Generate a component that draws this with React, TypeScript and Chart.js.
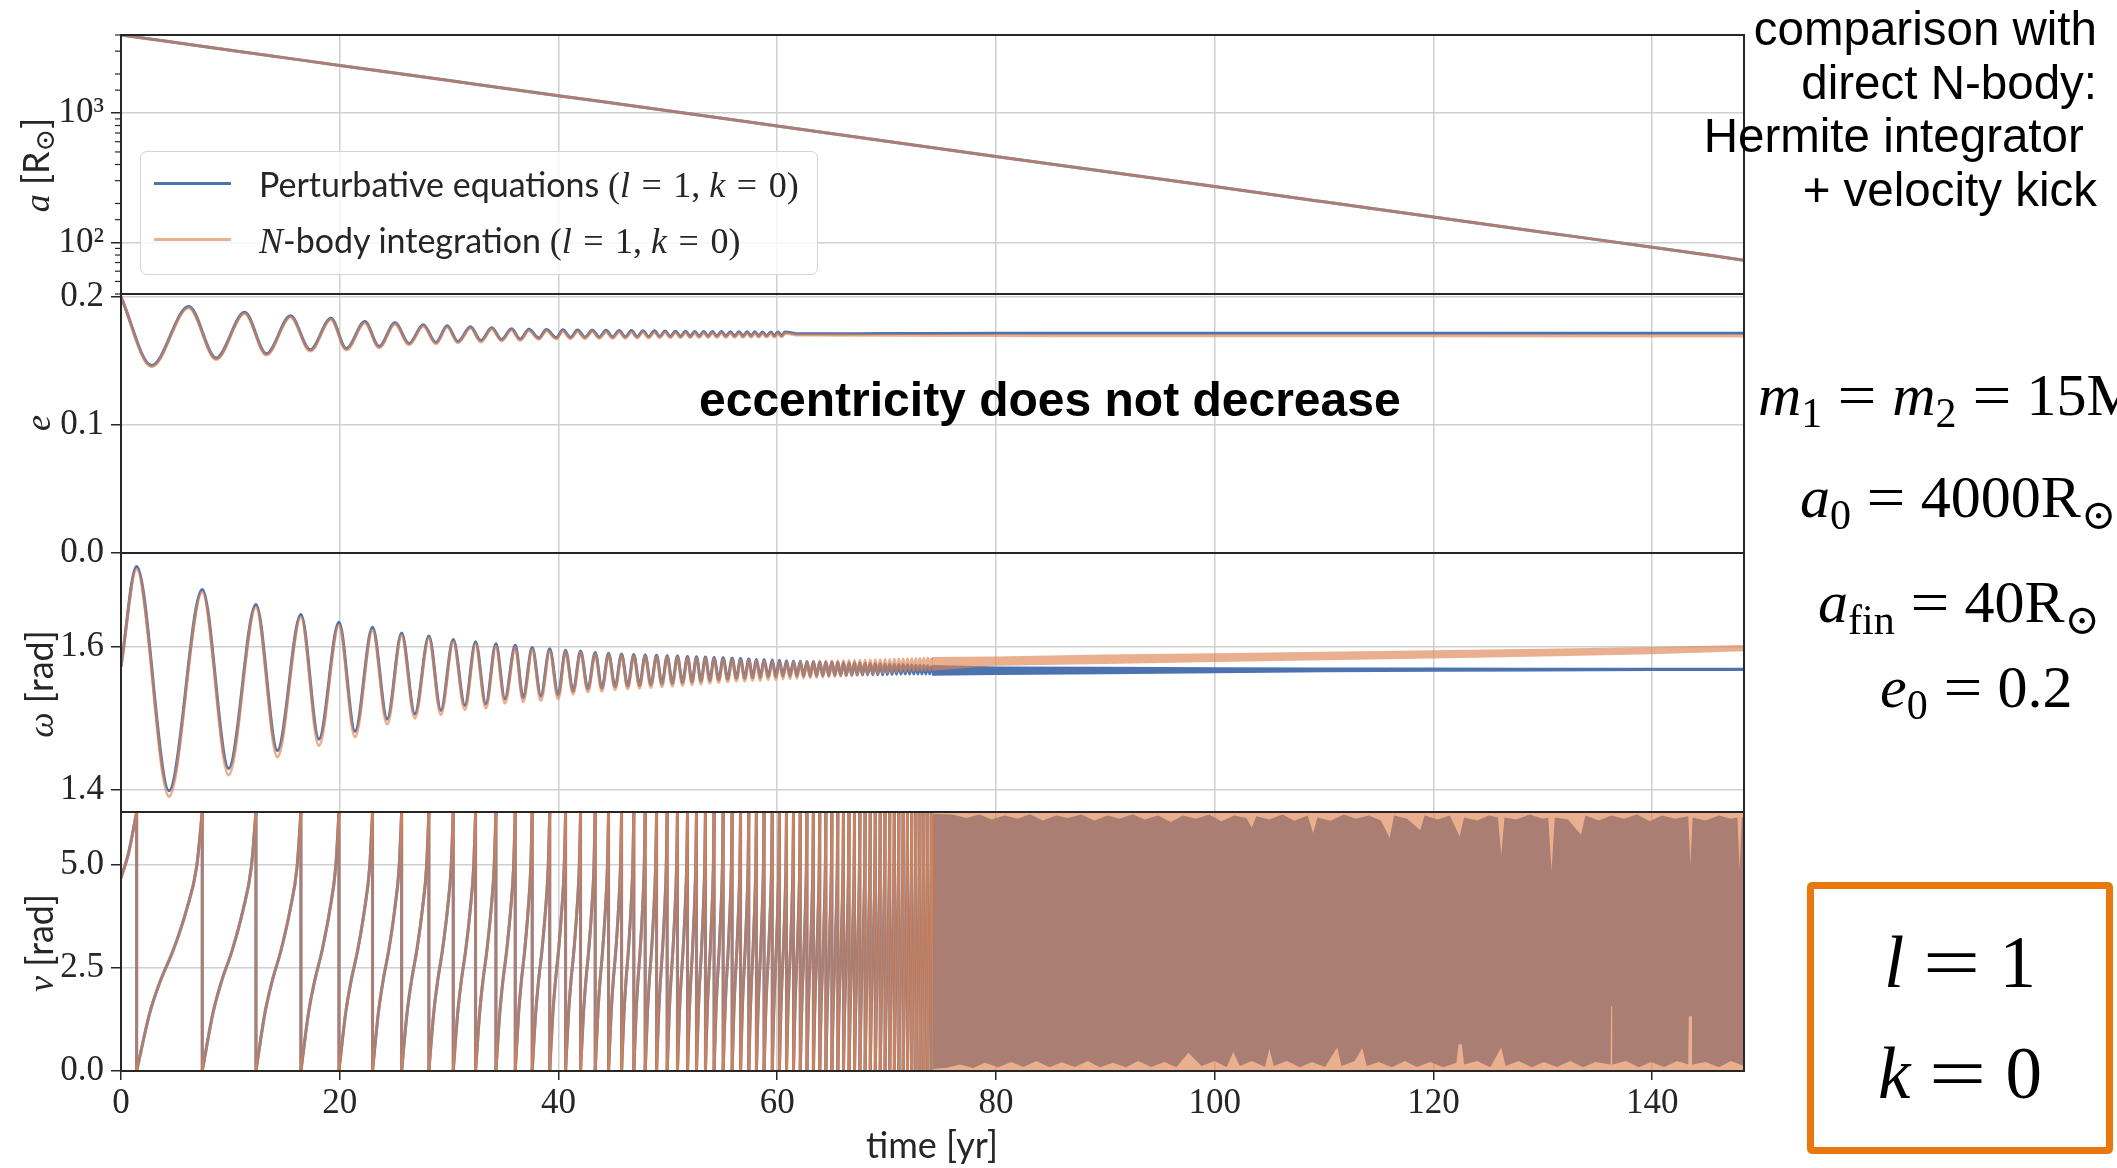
import React, { useEffect, useRef } from 'react';
import { Chart, registerables } from 'chart.js';
Chart.register(...registerables);

// ---------------- style constants ----------------
const SERIF = '"Liberation Serif", "DejaVu Serif", serif';
const SANS = 'Lato, "Noto Sans", sans-serif';
const ARIAL = '"Liberation Sans", Arial, sans-serif';
const BLUE = '#4c72b0';
const ORANGE = 'rgba(221,132,82,0.65)';
const GRID = '#d0d0d0';
const AXIS = '#262626';
const BOX = '#e8770e';

// ---------------- data ----------------
const X_MAX = 148.4;
const TWO_PI = 6.2832;

// semi-major axis [R_sun]
const A_TIME = [0, 10, 20, 30, 40, 50, 60, 70, 80, 90, 100, 110, 120, 130, 140, 148.4];
const A_PERT = [4000, 3050, 2330, 1780, 1360, 1040, 793, 605, 462, 353, 270, 206, 157, 120, 92, 73];
const A_NBODY = [4000, 3050, 2330, 1780, 1360, 1040, 793, 605, 462, 353, 270, 206, 157, 120, 92, 73];
const A_INIT = 4000;
const A_FIN = 40;

// eccentricity extrema + tail
const E_TIME = [0, 2.8, 6.2, 8.7, 11.3, 13.3, 15.5, 17.3, 19.2, 20.6, 22.3, 23.6, 25.05, 26.35, 27.63, 28.8, 29.83, 30.8, 31.96, 32.9, 33.9, 34.8, 35.7, 36.5, 37.3, 38.2, 38.9, 39.8, 40.4, 41.1, 41.75, 42.42, 43.1, 43.73, 44.35, 44.94, 45.55, 46.11, 46.68, 47.2, 47.73, 48.24, 48.78, 49.26, 49.75, 50.22, 50.7, 51.15, 51.62, 52.05, 52.46, 52.87, 53.28, 53.68, 54.08, 54.48, 54.9, 55.3, 55.72, 56.11, 56.5, 56.87, 57.26, 57.61, 57.96, 58.31, 58.66, 59.02, 59.42, 59.74, 60.07, 60.4, 60.72, 62, 70, 80, 100, 120, 148.4];
const E_PERT = [0.2, 0.1465, 0.1926, 0.1522, 0.1881, 0.1556, 0.1853, 0.1587, 0.1834, 0.1597, 0.1808, 0.1613, 0.1799, 0.1636, 0.1783, 0.1644, 0.1775, 0.1652, 0.1767, 0.1659, 0.1759, 0.1667, 0.1751, 0.1671, 0.1747, 0.1679, 0.1745, 0.1682, 0.1743, 0.1684, 0.1741, 0.1685, 0.174, 0.1686, 0.1739, 0.1687, 0.1738, 0.1688, 0.1737, 0.1689, 0.1736, 0.169, 0.1735, 0.1691, 0.1734, 0.1691, 0.1733, 0.1692, 0.1732, 0.1692, 0.1731, 0.1693, 0.1731, 0.1693, 0.173, 0.1694, 0.173, 0.1694, 0.1729, 0.1695, 0.1729, 0.1695, 0.1728, 0.1696, 0.1728, 0.1696, 0.1727, 0.1697, 0.1727, 0.1697, 0.1726, 0.1698, 0.1726, 0.1712, 0.1714, 0.1716, 0.1717, 0.1717, 0.1716];
const E_NBODY = [0.2, 0.1455, 0.1916, 0.1512, 0.1871, 0.1546, 0.1843, 0.1577, 0.1824, 0.1587, 0.1798, 0.1603, 0.1789, 0.1626, 0.1773, 0.1634, 0.1765, 0.1642, 0.1757, 0.1649, 0.1749, 0.1657, 0.1741, 0.1661, 0.1737, 0.1669, 0.1735, 0.1672, 0.1733, 0.1674, 0.1731, 0.1675, 0.173, 0.1676, 0.1729, 0.1677, 0.1728, 0.1678, 0.1727, 0.1679, 0.1726, 0.168, 0.1725, 0.1681, 0.1724, 0.1681, 0.1723, 0.1682, 0.1722, 0.1682, 0.1721, 0.1683, 0.1721, 0.1683, 0.172, 0.1684, 0.172, 0.1684, 0.1719, 0.1685, 0.1719, 0.1685, 0.1718, 0.1686, 0.1718, 0.1686, 0.1717, 0.1687, 0.1717, 0.1687, 0.1716, 0.1688, 0.1716, 0.1702, 0.17, 0.1698, 0.1697, 0.1696, 0.1695];

// argument of periapsis extrema (maxima at the wraps of nu, minima between)
const W_TIME = [0, 1.43, 4.39, 7.43, 9.84, 12.34, 14.3, 16.45, 18.1, 19.93, 21.4, 23.0, 24.34, 25.66, 26.87, 28.15, 29.25, 30.38, 31.44, 32.42, 33.36, 34.28, 35.1, 36.05, 36.77, 37.6, 38.39, 39.2, 39.97, 40.65, 41.34, 42.02, 42.69, 43.36, 43.97, 44.58, 45.18, 45.77, 46.33, 46.89, 47.41, 47.93, 48.45, 48.97, 49.46, 49.94, 50.41, 50.88, 51.34, 51.8, 52.21, 52.62, 53.03, 53.44, 53.84, 54.23, 54.65, 55.06, 55.47, 55.88, 56.27, 56.65, 57.03, 57.4, 57.75, 58.1, 58.45, 58.8, 59.18, 59.55, 59.88, 60.2, 60.53, 60.85,
  61.17, 61.49, 61.8, 62.11, 62.41, 62.72, 63.02, 63.31, 63.6, 63.89, 64.17, 64.45, 64.72, 65.0, 65.27, 65.54, 65.8, 66.06, 66.31, 66.57, 66.82, 67.07, 67.31, 67.56, 67.8, 68.04, 68.27, 68.51, 68.74, 68.97, 69.19, 69.42, 69.64, 69.86, 70.07, 70.29, 70.5, 70.71, 70.91, 71.12, 71.32, 71.52, 71.71, 71.91, 72.1, 72.3, 72.49, 72.68, 72.86, 73.05, 73.23, 73.41, 73.59, 73.77, 73.94, 74.12];
const W_PERT = [1.572, 1.712, 1.399, 1.68, 1.43, 1.659, 1.455, 1.645, 1.471, 1.634, 1.482, 1.627, 1.499, 1.619, 1.506, 1.615, 1.511, 1.61, 1.518, 1.607, 1.52, 1.604, 1.527, 1.602, 1.529, 1.599, 1.531, 1.597, 1.533, 1.595, 1.538, 1.594, 1.541, 1.592, 1.542, 1.591, 1.544, 1.59, 1.545, 1.589, 1.546, 1.5885, 1.547, 1.588, 1.548, 1.5875, 1.549, 1.587, 1.55, 1.5865, 1.551, 1.586, 1.552, 1.5855, 1.553, 1.585, 1.554, 1.5845, 1.555, 1.584, 1.556, 1.5835, 1.556, 1.583, 1.557, 1.5825, 1.557, 1.582, 1.558, 1.5815, 1.558, 1.581, 1.559, 1.5805,
  1.559, 1.58, 1.559, 1.5798, 1.559, 1.5795, 1.5592, 1.5792, 1.5594, 1.579, 1.5596, 1.5787, 1.5598, 1.5785, 1.56, 1.5782, 1.56, 1.578, 1.56, 1.5777, 1.5602, 1.5775, 1.5604, 1.5772, 1.5606, 1.577, 1.5608, 1.5767, 1.561, 1.5765, 1.561, 1.5762, 1.561, 1.576, 1.5612, 1.5757, 1.5614, 1.5755, 1.5616, 1.5752, 1.5618, 1.575, 1.562, 1.5747, 1.562, 1.5745, 1.562, 1.5742, 1.562, 1.574, 1.562, 1.5737, 1.562, 1.5735, 1.562, 1.5732];
const W_NBODY = [1.572, 1.708, 1.391, 1.676, 1.421, 1.655, 1.446, 1.641, 1.462, 1.63, 1.474, 1.623, 1.492, 1.616, 1.5, 1.612, 1.505, 1.607, 1.512, 1.604, 1.514, 1.601, 1.521, 1.599, 1.523, 1.596, 1.525, 1.594, 1.527, 1.593, 1.534, 1.592, 1.537, 1.59, 1.538, 1.589, 1.54, 1.588, 1.541, 1.587, 1.542, 1.5865, 1.543, 1.586, 1.544, 1.5855, 1.545, 1.585, 1.546, 1.5845, 1.547, 1.584, 1.548, 1.5835, 1.549, 1.583, 1.55, 1.5825, 1.551, 1.582, 1.552, 1.5815, 1.552, 1.581, 1.553, 1.5805, 1.553, 1.58, 1.554, 1.5795, 1.554, 1.579, 1.555, 1.5785,
  1.5553, 1.5789, 1.5557, 1.5791, 1.556, 1.5793, 1.5565, 1.5795, 1.557, 1.5797, 1.5575, 1.5799, 1.558, 1.5801, 1.5585, 1.5803, 1.559, 1.5805, 1.5595, 1.5807, 1.56, 1.5809, 1.5605, 1.5811, 1.561, 1.5813, 1.5615, 1.5815, 1.562, 1.5817, 1.5625, 1.5819, 1.563, 1.5821, 1.5635, 1.5823, 1.564, 1.5825, 1.5645, 1.5827, 1.565, 1.5829, 1.5655, 1.5831, 1.566, 1.5833, 1.5663, 1.5835, 1.5666, 1.5837, 1.5669, 1.5839, 1.5672, 1.5841, 1.5675, 1.5843];
// unresolved oscillation band of omega (lower / upper edge)
const WB_TIME = [74.12, 80, 90, 100, 110, 120, 130, 140, 148.4];
const WB_PERT_LO = [1.5595, 1.5605, 1.5615, 1.563, 1.5645, 1.565, 1.5655, 1.566, 1.566];
const WB_PERT_HI = [1.5745, 1.5725, 1.572, 1.5715, 1.571, 1.571, 1.5705, 1.5705, 1.5705];
const WB_NBODY_LO = [1.5665, 1.5735, 1.576, 1.5785, 1.581, 1.5835, 1.5865, 1.5895, 1.5935];
const WB_NBODY_HI = [1.5855, 1.5865, 1.589, 1.591, 1.593, 1.595, 1.597, 1.5995, 1.6025];

// true anomaly: wrap times (2pi -> 0) and one-orbit profile
const NU_HEAD_TIME = [0, 0.7, 1.43];
const NU_HEAD_VAL = [4.68, 5.3, TWO_PI];
const NU_WRAP_TIME = [1.43, 7.43, 12.34, 16.45, 19.93, 23.0, 25.66, 28.15, 30.38, 32.42, 34.28, 36.05, 37.6, 39.2, 40.65, 42.02, 43.36, 44.58, 45.77, 46.89, 47.93, 48.97, 49.94, 50.88, 51.8, 52.62, 53.44, 54.23, 55.06, 55.88, 56.65, 57.4, 58.1, 58.8, 59.55, 60.2, 60.85,
  61.49, 62.11, 62.72, 63.31, 63.89, 64.45, 65.0, 65.54, 66.06, 66.57, 67.07, 67.56, 68.04, 68.51, 68.97, 69.42, 69.86, 70.29, 70.71, 71.12, 71.52, 71.91, 72.3, 72.68, 73.05, 73.41, 73.77, 74.12];
const NU_SHAPE_FRAC = [0, 0.2, 0.36, 0.56, 0.76, 0.915, 1];
const NU_SHAPE_VAL = [0, 1.41, 2.18, 2.94, 3.91, 4.96, TWO_PI];
// unresolved region: N-body fills [0, 2pi]; perturbative band edges
const NU_DENSE_TIME = [74.12, 148.4];
const NU_HI_TIME = [74.12, 76, 77.3, 78.5, 79.6, 80.8, 82, 83.1, 84.3, 85.5, 86.6, 87.8, 89, 90.2, 91.3, 92.5, 93.6, 94.8, 96, 97.1, 98.3, 99.5, 100.6, 101.8, 102.9, 103.4, 103.8, 105, 106.2, 107.3, 108.5, 109, 109.4, 110.6, 111.8, 112.9, 114.1, 115.2, 116, 116.4, 117.6, 118.8, 119.2, 120.4, 121.5, 122.4, 122.8, 124, 125.1, 125.9, 126.2, 126.5, 127.6, 128.8, 130, 130.5, 130.8, 131.1, 132.3, 133.5, 133.9, 135.1, 136.3, 137.4, 138.6, 139.8, 140.9, 142.1, 143.3, 143.5, 143.7, 144.9, 146.1, 147.2, 147.8, 148.0, 148.2, 148.4];
const NU_HI_VAL = [6.24, 6.22, 6.14, 6.22, 6.1, 6.2, 6.12, 6.23, 6.08, 6.2, 6.14, 6.22, 6.08, 6.2, 6.12, 6.23, 6.1, 6.2, 6.04, 6.2, 6.12, 6.22, 6.06, 6.2, 6.14, 5.9, 6.18, 6.1, 6.22, 6.07, 6.2, 5.77, 6.15, 6.07, 6.22, 6.12, 6.2, 6.08, 5.65, 6.2, 6.12, 5.84, 6.2, 6.1, 6.2, 5.69, 6.15, 6.08, 6.2, 6.15, 5.24, 6.15, 6.1, 6.22, 6.12, 6.15, 4.84, 6.15, 6.1, 5.73, 6.2, 6.08, 6.2, 6.12, 6.22, 6.06, 6.2, 6.12, 6.18, 5.0, 6.15, 6.08, 6.2, 6.12, 6.15, 4.88, 6.15, 6.18];
const NU_LO_TIME = [74.12, 75.5, 76.7, 77.9, 79, 80.2, 81.4, 82.5, 83.7, 84.9, 86, 87.2, 88.4, 89.5, 90.7, 91.9, 93, 94.2, 95.4, 96.5, 97.6, 98.8, 100, 101.1, 101.7, 102.3, 103.4, 104.6, 105, 105.4, 106.6, 107.8, 108.9, 110.1, 111.2, 111.6, 112.8, 113.5, 113.9, 115, 116.2, 117.4, 118.5, 119.7, 120.9, 122.1, 122.3, 122.6, 122.8, 124, 125.2, 126.2, 126.6, 127.8, 129, 130.1, 131.3, 132.5, 133.7, 134.8, 136.2, 136.25, 136.35, 136.4, 137.6, 138.8, 139.9, 141.1, 142.3, 143.3, 143.35, 143.65, 143.7, 144.9, 146.1, 147.2, 148.4];
const NU_LO_VAL = [0.05, 0.08, 0.16, 0.07, 0.2, 0.09, 0.22, 0.1, 0.24, 0.09, 0.21, 0.1, 0.24, 0.09, 0.2, 0.09, 0.24, 0.1, 0.22, 0.09, 0.44, 0.12, 0.24, 0.09, 0.46, 0.12, 0.24, 0.1, 0.54, 0.12, 0.24, 0.09, 0.22, 0.1, 0.57, 0.12, 0.24, 0.56, 0.12, 0.22, 0.09, 0.24, 0.1, 0.22, 0.09, 0.2, 0.65, 0.65, 0.16, 0.24, 0.09, 0.57, 0.12, 0.24, 0.09, 0.22, 0.1, 0.24, 0.09, 0.22, 0.16, 1.57, 1.57, 0.16, 0.24, 0.09, 0.22, 0.1, 0.24, 0.16, 1.33, 1.33, 0.16, 0.22, 0.09, 0.24, 0.12];

// ---------------- geometry ----------------
const W = 2117;
const PLOT_LEFT = 121;
const PLOT_RIGHT = 1744;
const PANEL_TOPS = [35, 294, 553, 812];
const PANEL_H = 259;
const PAD = 30;
const XAXIS_H = 62;

type P = { x: number; y: number | null };
const pts = (xs: number[], ys: number[]): P[] => xs.map((x, i) => ({ x, y: ys[i] }));
const hline = (xs: number[], v: number): P[] => xs.map((x) => ({ x, y: v }));

function nuSegments(): P[] {
  const out: P[] = pts(NU_HEAD_TIME, NU_HEAD_VAL);
  out.push({ x: NU_HEAD_TIME[NU_HEAD_TIME.length - 1], y: null });
  for (let i = 0; i < NU_WRAP_TIME.length - 1; i++) {
    const t0 = NU_WRAP_TIME[i];
    const t1 = NU_WRAP_TIME[i + 1];
    NU_SHAPE_FRAC.forEach((f, k) => out.push({ x: t0 + f * (t1 - t0), y: NU_SHAPE_VAL[k] }));
    out.push({ x: t1, y: null });
  }
  return out;
}
function nuDrops(): P[] {
  const out: P[] = [];
  NU_WRAP_TIME.forEach((w) => {
    out.push({ x: w, y: TWO_PI }, { x: w, y: 0 }, { x: w, y: null });
  });
  return out;
}

const line = (data: P[], color: string, order: number, extra: any = {}) => ({
  data,
  borderColor: color,
  backgroundColor: color,
  borderWidth: 3,
  pointRadius: 0,
  fill: false,
  tension: 0,
  spanGaps: false,
  order,
  ...extra,
});
const band = (data: P[], color: string, order: number, target: number | null) => ({
  data,
  borderColor: 'rgba(0,0,0,0)',
  backgroundColor: color,
  borderWidth: 0,
  pointRadius: 0,
  fill: target === null ? false : { target },
  tension: 0,
  order,
});

const framePlugin = {
  id: 'frame',
  afterDatasetsDraw(chart: any) {
    const { left, top, right, bottom } = chart.chartArea;
    const ctx = chart.ctx;
    ctx.save();
    ctx.strokeStyle = AXIS;
    ctx.lineWidth = 2;
    ctx.strokeRect(left, top, right - left, bottom - top);
    ctx.restore();
  },
};
const isDecade = (v: number) => Math.abs(Math.log10(v) - Math.round(Math.log10(v))) < 1e-6;
const minorTickPlugin = {
  id: 'minorTicks',
  afterDatasetsDraw(chart: any) {
    const s = chart.scales.y;
    if (!s || s.type !== 'logarithmic') return;
    const ctx = chart.ctx;
    ctx.save();
    ctx.strokeStyle = AXIS;
    ctx.lineWidth = 1.2;
    s.ticks.forEach((t: any) => {
      if (isDecade(t.value)) return;
      const y = s.getPixelForValue(t.value);
      ctx.beginPath();
      ctx.moveTo(s.right - 6, y);
      ctx.lineTo(s.right, y);
      ctx.stroke();
    });
    ctx.restore();
  },
};

function xScale(showX: boolean) {
  return {
    type: 'linear',
    min: 0,
    max: X_MAX,
    border: { display: false },
    grid: { color: GRID, lineWidth: 1.5, drawTicks: showX, tickLength: 9, tickColor: AXIS, tickWidth: 1.5 },
    ticks: {
      display: showX,
      stepSize: 20,
      includeBounds: false,
      autoSkip: false,
      maxRotation: 0,
      padding: 3,
      color: AXIS,
      font: { family: SERIF, size: 35 },
      callback: (v: any) => String(v),
    },
    afterFit: (s: any) => {
      s.height = showX ? XAXIS_H : 0;
    },
  };
}
function yLinear(min: number, max: number, step: number) {
  return {
    type: 'linear',
    min,
    max,
    border: { display: false },
    grid: { color: GRID, lineWidth: 1.5, tickLength: 10, tickColor: AXIS, tickWidth: 1.5 },
    ticks: {
      stepSize: step,
      includeBounds: false,
      autoSkip: false,
      padding: 7,
      color: AXIS,
      font: { family: SERIF, size: 35 },
      callback: (v: any) => Number(v).toFixed(1),
    },
    afterFit: (s: any) => {
      s.width = PLOT_LEFT;
    },
  };
}
function yLog() {
  return {
    type: 'logarithmic',
    min: A_FIN,
    max: A_INIT,
    border: { display: false },
    grid: {
      color: (c: any) => (c.tick && isDecade(c.tick.value) ? GRID : 'rgba(0,0,0,0)'),
      lineWidth: 1.5,
      tickLength: 10,
      tickColor: (c: any) => (c.tick && isDecade(c.tick.value) ? AXIS : 'rgba(0,0,0,0)'),
      tickWidth: 1.5,
    },
    ticks: {
      autoSkip: false,
      padding: 7,
      color: AXIS,
      font: { family: SERIF, size: 35 },
      callback: (v: any) => {
        const n = Number(v);
        if (Math.abs(n - 100) < 1e-6) return '10²';
        if (Math.abs(n - 1000) < 1e-6) return '10³';
        return '';
      },
    },
    afterFit: (s: any) => {
      s.width = PLOT_LEFT;
    },
  };
}

function baseOptions(y: any, showX: boolean) {
  return {
    responsive: false,
    maintainAspectRatio: false,
    devicePixelRatio: 1,
    animation: false,
    events: [],
    layout: { padding: { top: PAD, bottom: showX ? 0 : PAD, left: 0, right: W - PLOT_RIGHT } },
    plugins: { legend: { display: false }, tooltip: { enabled: false } },
    scales: { x: xScale(showX), y },
  };
}

function configA() {
  return {
    type: 'line',
    data: {
      datasets: [
        line(hline([0, X_MAX], A_INIT), '#222222', 0, { borderWidth: 1.5, borderDash: [7, 4], clip: 4 }),
        line(hline([0, X_MAX], A_FIN), '#c0392b', 0, { borderWidth: 1.5, borderDash: [7, 4], clip: 4 }),
        line(pts(A_TIME, A_NBODY), ORANGE, 1, { cubicInterpolationMode: 'monotone' }),
        line(pts(A_TIME, A_PERT), BLUE, 2, { cubicInterpolationMode: 'monotone' }),
      ],
    },
    options: baseOptions(yLog(), false),
    plugins: [framePlugin, minorTickPlugin],
  };
}
function configE() {
  return {
    type: 'line',
    data: {
      datasets: [
        line(pts(E_TIME, E_NBODY), ORANGE, 1, { cubicInterpolationMode: 'monotone' }),
        line(pts(E_TIME, E_PERT), BLUE, 2, { cubicInterpolationMode: 'monotone' }),
      ],
    },
    options: baseOptions(yLinear(0, 0.2023, 0.1), false),
    plugins: [framePlugin],
  };
}
function configW() {
  return {
    type: 'line',
    data: {
      datasets: [
        line(pts(W_TIME, W_NBODY), ORANGE, 1, { cubicInterpolationMode: 'monotone' }),
        band(pts(WB_TIME, WB_NBODY_LO), ORANGE, 1, null),
        band(pts(WB_TIME, WB_NBODY_HI), ORANGE, 1, 1),
        line(pts(W_TIME, W_PERT), BLUE, 2, { cubicInterpolationMode: 'monotone' }),
        band(pts(WB_TIME, WB_PERT_LO), BLUE, 2, null),
        band(pts(WB_TIME, WB_PERT_HI), BLUE, 2, 4),
      ],
    },
    options: baseOptions(yLinear(1.3693, 1.7308, 0.2), false),
    plugins: [framePlugin],
  };
}
function configNu() {
  return {
    type: 'line',
    data: {
      datasets: [
        line(nuSegments(), ORANGE, 1, { cubicInterpolationMode: 'monotone' }),
        line(nuDrops(), ORANGE, 1),
        { ...band(hline(NU_DENSE_TIME, TWO_PI), ORANGE, 1, null), fill: 'origin' },
        line(nuSegments(), BLUE, 2, { cubicInterpolationMode: 'monotone' }),
        line(nuDrops(), BLUE, 2),
        band(pts(NU_LO_TIME, NU_LO_VAL), BLUE, 2, null),
        band(pts(NU_HI_TIME, NU_HI_VAL), BLUE, 2, 5),
      ],
    },
    options: baseOptions(yLinear(0, TWO_PI, 2.5), true),
    plugins: [framePlugin],
  };
}

function Panel({ top, height, make }: { top: number; height: number; make: () => any }) {
  const ref = useRef<HTMLCanvasElement>(null);
  useEffect(() => {
    const chart = new Chart(ref.current as HTMLCanvasElement, make());
    return () => chart.destroy();
  }, []);
  return (
    <canvas
      ref={ref}
      width={W}
      height={height}
      style={{ position: 'absolute', left: 0, top, width: W, height }}
    />
  );
}

const abs = (s: any): any => ({ position: 'absolute', whiteSpace: 'pre', ...s });
const sub = (t: string, size = '0.7em') => (
  <span style={{ fontSize: size, position: 'relative', top: '0.28em' }}>{t}</span>
);
const eqm = (m: string) => <span style={{ margin: `0 ${m}` }}>=</span>;
const eqWide = (
  <span style={{ display: 'inline-block', transform: 'scaleX(1.15)', margin: '0 0.3em' }}>=</span>
);
const eqBox = (
  <span style={{ display: 'inline-block', transform: 'scaleX(1.4)', margin: '0 0.37em' }}>=</span>
);
const it = (t: string) => <span style={{ fontStyle: 'italic' }}>{t}</span>;

function YTitle({ cx, cy, children }: any) {
  return (
    <div
      style={abs({
        left: cx,
        top: cy,
        transform: 'translate(-50%,-50%) rotate(-90deg)',
        fontSize: 36,
        lineHeight: '40px',
        color: AXIS,
      })}
    >
      {children}
    </div>
  );
}

function LegendMath() {
  return (
    <span style={{ fontFamily: SERIF, fontSize: 36 }}>
      ({it('l')}
      {eqm('0.32em')}1, {it('k')}
      {eqm('0.32em')}0)
    </span>
  );
}

export default function App() {
  return (
    <div
      style={{
        position: 'fixed',
        left: 0,
        top: 0,
        width: W,
        height: 1168,
        overflow: 'hidden',
        background: '#ffffff',
      }}
    >
      <Panel top={PANEL_TOPS[0] - PAD} height={PANEL_H + 2 * PAD} make={configA} />
      <Panel top={PANEL_TOPS[1] - PAD} height={PANEL_H + 2 * PAD} make={configE} />
      <Panel top={PANEL_TOPS[2] - PAD} height={PANEL_H + 2 * PAD} make={configW} />
      <Panel top={PANEL_TOPS[3] - PAD} height={PANEL_H + PAD + XAXIS_H} make={configNu} />

      {/* y titles */}
      <YTitle cx={37} cy={165}>
        <span style={{ fontFamily: SERIF, fontStyle: 'italic' }}>a</span>
        <span style={{ fontFamily: SANS }}>
          {' [R'}
          <span style={{ fontFamily: SERIF, fontSize: '0.75em', position: 'relative', top: '0.2em' }}>⊙</span>]
        </span>
      </YTitle>
      <YTitle cx={38} cy={423}>
        <span style={{ fontFamily: SERIF, fontStyle: 'italic' }}>e</span>
      </YTitle>
      <YTitle cx={40} cy={684}>
        <span style={{ fontFamily: SERIF, fontStyle: 'italic' }}>ω</span>
        <span style={{ fontFamily: SANS }}> [rad]</span>
      </YTitle>
      <YTitle cx={40} cy={943}>
        <span style={{ fontFamily: SERIF, fontStyle: 'italic' }}>ν</span>
        <span style={{ fontFamily: SANS }}> [rad]</span>
      </YTitle>

      {/* x title */}
      <div style={abs({ left: 932, top: 1126, transform: 'translateX(-50%)', fontFamily: SANS, fontSize: 36, lineHeight: '36px', color: AXIS })}>
        time [yr]
      </div>

      {/* legend */}
      <div
        style={abs({
          left: 140,
          top: 151,
          width: 678,
          height: 124,
          boxSizing: 'border-box',
          border: '1.5px solid #d4d4d4',
          borderRadius: 7,
          background: 'rgba(255,255,255,0.8)',
        })}
      >
        <div style={abs({ left: 13, top: 30, width: 77, height: 3, background: BLUE })} />
        <div style={abs({ left: 13, top: 86, width: 77, height: 3, background: ORANGE })} />
        <div style={abs({ left: 118, top: 11, fontFamily: SANS, fontSize: 34, lineHeight: '42px', color: AXIS })}>
          Perturbative equations <LegendMath />
        </div>
        <div style={abs({ left: 118, top: 67, fontFamily: SANS, fontSize: 34, lineHeight: '42px', color: AXIS })}>
          <span style={{ fontFamily: SERIF, fontStyle: 'italic', fontSize: 36 }}>N</span>-body integration <LegendMath />
        </div>
      </div>

      {/* annotation inside e panel */}
      <div style={abs({ left: 699, top: 376, fontFamily: ARIAL, fontWeight: 'bold', fontSize: 48, lineHeight: '48px', color: '#000' })}>
        eccentricity does not decrease
      </div>

      {/* right-hand notes */}
      <div
        style={abs({
          right: 20,
          top: 2,
          textAlign: 'right',
          fontFamily: ARIAL,
          fontSize: 47.5,
          lineHeight: '53.5px',
          color: '#000',
        })}
      >
        {'comparison with\ndirect N-body:\nHermite integrator \n+ velocity kick'}
      </div>

      <div style={abs({ left: 1758, top: 365, fontFamily: SERIF, fontSize: 60, lineHeight: '60px', color: '#000' })}>
        {it('m')}
        {sub('1')}
        {eqWide}
        {it('m')}
        {sub('2')}
        {eqWide}15M{sub('⊙')}
      </div>
      <div style={abs({ left: 1800, top: 467, fontFamily: SERIF, fontSize: 60, lineHeight: '60px', color: '#000' })}>
        {it('a')}
        {sub('0')}
        {eqWide}4000R{sub('⊙')}
      </div>
      <div style={abs({ left: 1818, top: 572, fontFamily: SERIF, fontSize: 60, lineHeight: '60px', color: '#000' })}>
        {it('a')}
        {sub('fin')}
        {eqWide}40R{sub('⊙')}
      </div>
      <div style={abs({ left: 1880, top: 657, fontFamily: SERIF, fontSize: 60, lineHeight: '60px', color: '#000' })}>
        {it('e')}
        {sub('0')}
        {eqWide}0.2
      </div>

      {/* l, k box */}
      <div
        style={abs({
          left: 1807,
          top: 882,
          width: 306,
          height: 272,
          boxSizing: 'border-box',
          border: `7px solid ${BOX}`,
          borderRadius: 5,
        })}
      />
      <div style={abs({ left: 1807, width: 306, top: 926, textAlign: 'center', fontFamily: SERIF, fontSize: 73, lineHeight: '73px', color: '#000' })}>
        {it('l')}
        {eqBox}1
      </div>
      <div style={abs({ left: 1807, width: 306, top: 1037, textAlign: 'center', fontFamily: SERIF, fontSize: 73, lineHeight: '73px', color: '#000' })}>
        {it('k')}
        {eqBox}0
      </div>
    </div>
  );
}
